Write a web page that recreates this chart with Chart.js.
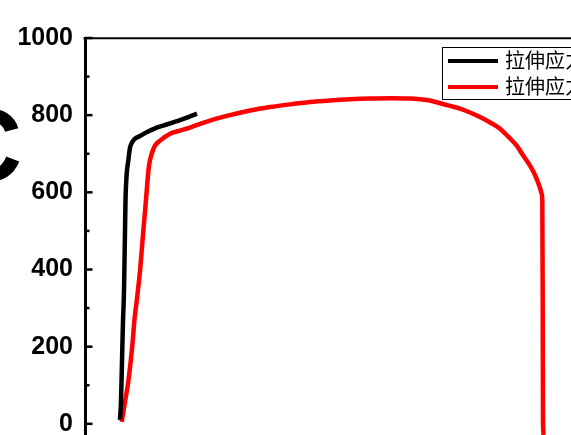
<!DOCTYPE html>
<html><head><meta charset="utf-8">
<script src="https://cdn.jsdelivr.net/npm/chart.js@4.4.1/dist/chart.umd.min.js"></script>
<style>
html,body{margin:0;padding:0;background:#fff;}
#wrap{position:relative;width:571px;height:435px;overflow:hidden;background:#fff;}
#c{position:absolute;left:0;top:0;}
#ytitle{position:absolute;left:-53px;top:93px;font:bold 104px "Liberation Sans",Arial,sans-serif;line-height:1;color:#000;white-space:nowrap;}
#legend{position:absolute;left:442px;top:47px;width:240px;height:53px;border:1px solid #000;box-sizing:border-box;background:#fff;}
#legend .sw{position:absolute;left:5px;width:50px;height:4px;}
#legend .tx{position:absolute;left:62px;font:20px "Noto Sans CJK SC",sans-serif;line-height:20px;color:#000;white-space:nowrap;}
</style></head>
<body>
<div id="wrap">
<canvas id="c" width="725" height="528"></canvas>
<span id="ytitle">C</span>
<div id="legend"></div>
</div>
<script>
// series names
const seriesNames = ['拉伸应力-应变曲线1', '拉伸应力-应变曲线2'];
const seriesColors = ['#000000', '#ff0000'];
// y-axis tick labels (MPa)
const yTicks = [0, 200, 400, 600, 800, 1000];
// series 1 (black): strain (%) and stress (MPa)
const strain1 = [1.75, 1.8, 1.85, 1.9, 1.95, 2.0, 2.025, 2.085, 2.165, 2.25, 2.35, 2.5, 2.75, 3.085, 3.5, 3.915, 4.75, 5.6];
const stress1 = [10, 57, 162, 266, 344, 500, 578, 648, 682, 716, 729, 739, 746, 756, 766, 773, 787, 804];
// series 2 (red): strain (%) and stress (MPa)
const strain2 = [1.835, 2.0, 2.165, 2.285, 2.385, 2.465, 2.585, 2.75, 2.835, 2.915, 3.025, 3.125, 3.2, 3.335, 3.5, 3.75, 4.25, 4.75, 5.25, 6.25, 7.25, 8.25, 9.25, 10.25, 11.25, 12.25, 13.25, 14.25, 15.25, 16.25, 16.75, 17.25, 17.75, 18.25, 18.75, 19.25, 19.75, 20.25, 20.75, 21.15, 21.585, 21.9, 22.25, 22.5, 22.65, 22.775, 22.835, 22.865, 22.885, 22.9, 22.935];
const stress2 = [5, 57, 109, 162, 214, 266, 318, 396, 448, 500, 565, 630, 669, 700, 721, 734, 752, 760, 768, 786, 800, 812, 821, 828, 834, 838, 841, 843, 844, 843, 841, 838, 831, 824, 817, 807, 795, 781, 765, 745, 721, 696, 669, 645, 626, 607, 596, 578, 318, 5, -29];

const toPts = (xs, ys) => xs.map((x, i) => ({x, y: ys[i]}));

const innerTicks = {
  id: 'innerTicks',
  afterDraw(chart) {
    const {ctx, chartArea: a, scales: {y}} = chart;
    ctx.save();
    ctx.strokeStyle = '#000';
    ctx.lineWidth = 2;
    ctx.beginPath();
    ctx.moveTo(a.left - 1.5, a.top + 0.3);
    ctx.lineTo(a.right, a.top + 0.3);
    ctx.stroke();
    ctx.lineWidth = 2.5;
    for (let v = y.min; v <= y.max; v += 100) {
      const py = y.getPixelForValue(v);
      const major = yTicks.includes(v);
      ctx.beginPath();
      ctx.moveTo(a.left, py);
      ctx.lineTo(a.left + (major ? 7.5 : 4.5), py);
      ctx.stroke();
    }
    ctx.restore();
  }
};

const chart = new Chart(document.getElementById('c'), {
  type: 'line',
  data: {
    datasets: [
      {label: seriesNames[0], data: toPts(strain1, stress1), borderColor: seriesColors[0], borderWidth: 4.5, pointRadius: 0, cubicInterpolationMode: 'monotone', fill: false},
      {label: seriesNames[1], data: toPts(strain2, stress2), borderColor: seriesColors[1], borderWidth: 4.5, pointRadius: 0, cubicInterpolationMode: 'monotone', fill: false}
    ]
  },
  options: {
    responsive: false,
    maintainAspectRatio: false,
    animation: false,
    devicePixelRatio: 1,
    layout: {padding: {top: 38, left: 0, right: 0, bottom: 0}},
    plugins: {legend: {display: false}, tooltip: {enabled: false}},
    scales: {
      x: {type: 'linear', min: 0, max: 32, display: false},
      y: {
        type: 'linear', position: 'left', min: -200, max: 1000,
        grid: {display: false, drawTicks: false},
        border: {display: true, width: 3, color: '#000'},
        ticks: {
          stepSize: 100, autoSkip: false, padding: 12, color: '#000',
          font: {family: '"Liberation Sans", Arial, sans-serif', size: 25, weight: 'bold'},
          callback: v => yTicks.includes(v) ? String(v) : null
        },
        afterFit(s) { s.width = 85; }
      }
    }
  },
  plugins: [innerTicks]
});

// legend built from the datasets
const lg = document.getElementById('legend');
chart.data.datasets.forEach((ds, i) => {
  const sw = document.createElement('div');
  sw.className = 'sw';
  sw.style.top = (10.5 + i * 26) + 'px';
  sw.style.background = ds.borderColor;
  const tx = document.createElement('span');
  tx.className = 'tx';
  tx.style.top = (1.5 + i * 26) + 'px';
  tx.textContent = ds.label;
  lg.appendChild(sw); lg.appendChild(tx);
});
</script>
</body></html>
